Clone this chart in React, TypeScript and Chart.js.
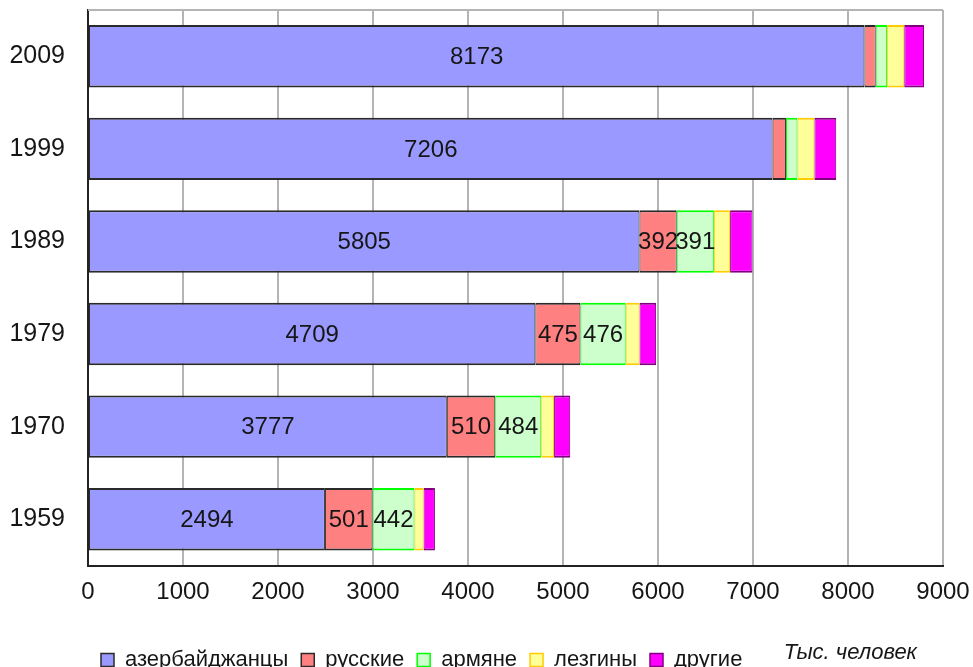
import React, { useEffect, useRef } from "react";
import { Chart, registerables } from "chart.js";

Chart.register(...registerables);

const years = ["2009", "1999", "1989", "1979", "1970", "1959"];
const azerbaijani = [8173, 7206, 5805, 4709, 3777, 2494];
const russian = [119, 141, 392, 475, 510, 501];
const armenian = [120, 121, 391, 476, 484, 442];
const lezgin = [180, 178, 171, 145, 135, 95];
const others = [208, 230, 235, 175, 170, 120];
const seriesNames = ["азербайджанцы", "русские", "армяне", "лезгины", "другие"];
const unitLabel = "Тыс. человек";
const xTicks = [0, 1000, 2000, 3000, 4000, 5000, 6000, 7000, 8000, 9000];
const labelThreshold = 300;

const FONT = "'Liberation Sans', Arial, sans-serif";

const barLabels = {
  id: "barLabels",
  afterDatasetsDraw(chart: any) {
    const ctx = chart.ctx;
    ctx.save();
    ctx.font = `24px ${FONT}`;
    ctx.fillStyle = "#161616";
    ctx.textAlign = "center";
    ctx.textBaseline = "middle";
    chart.data.datasets.forEach((ds: any, di: number) => {
      const meta = chart.getDatasetMeta(di);
      meta.data.forEach((el: any, i: number) => {
        const v = ds.data[i];
        if (v >= labelThreshold) {
          const p = el.getCenterPoint();
          ctx.fillText(String(v), p.x, p.y + 1);
        }
      });
    });
    ctx.restore();
  },
};

const frame = {
  id: "frame",
  beforeDatasetsDraw(chart: any) {
    const { ctx, chartArea } = chart;
    ctx.save();
    ctx.strokeStyle = "#b4b4b4";
    ctx.lineWidth = 2;
    ctx.beginPath();
    ctx.moveTo(chartArea.left, chartArea.top);
    ctx.lineTo(chartArea.right, chartArea.top);
    ctx.stroke();
    ctx.restore();
  },
  afterDraw(chart: any) {
    const { ctx, chartArea } = chart;
    ctx.save();
    ctx.font = `italic 22px ${FONT}`;
    ctx.fillStyle = "#161616";
    ctx.textAlign = "right";
    ctx.textBaseline = "alphabetic";
    ctx.fillText(unitLabel, chartArea.right - 26, chart.legend.top + 23);
    ctx.restore();
  },
};

export default function App() {
  const ref = useRef<HTMLCanvasElement>(null);
  useEffect(() => {
    if (!ref.current) return;
    Chart.defaults.font.family = FONT;
    const bw = { top: 2, bottom: 2, left: 1, right: 1 };
    const chart = new Chart(ref.current, {
      type: "bar",
      data: {
        labels: years,
        datasets: [
          { label: seriesNames[0], data: azerbaijani, backgroundColor: "#9999ff", borderColor: "#2a2a2a", borderWidth: bw },
          { label: seriesNames[1], data: russian, backgroundColor: "#ff8080", borderColor: "#2a2a2a", borderWidth: bw },
          { label: seriesNames[2], data: armenian, backgroundColor: "#ccffcc", borderColor: "#00ff00", borderWidth: bw },
          { label: seriesNames[3], data: lezgin, backgroundColor: "#ffff99", borderColor: "#ffcc00", borderWidth: bw },
          { label: seriesNames[4], data: others, backgroundColor: "#ff00ff", borderColor: "#800080", borderWidth: bw },
        ] as any,
      },
      options: {
        indexAxis: "y",
        responsive: false,
        animation: false,
        devicePixelRatio: 1,
        layout: { padding: { top: 10, left: 0, right: 0, bottom: 0 } },
        datasets: {
          bar: { barPercentage: 0.675, categoryPercentage: 1, borderSkipped: false },
        } as any,
        scales: {
          x: {
            stacked: true,
            min: 0,
            max: 9000,
            afterBuildTicks: (s: any) => {
              s.ticks = xTicks.map((v) => ({ value: v }));
            },
            ticks: {
              padding: 12,
              color: "#161616",
              font: { size: 24 },
              maxRotation: 0,
              autoSkip: false,
              callback: (v: any) => String(v),
            },
            grid: { color: "#b4b4b4", lineWidth: 2, drawTicks: false },
            border: { color: "#222", width: 2 },
            afterFit: (s: any) => {
              s.height = 70.5;
              s.paddingRight = 30;
              s.paddingLeft = 0;
            },
          },
          y: {
            stacked: true,
            grid: { display: false, drawTicks: false },
            border: { color: "#222", width: 2 },
            ticks: { padding: 23, color: "#161616", font: { size: 25 } },
            afterFit: (s: any) => {
              s.width = 88;
              s.paddingTop = 0;
              s.paddingBottom = 0;
            },
          },
        },
        plugins: {
          legend: {
            position: "bottom",
            align: "start",
            fullSize: false,
            labels: { boxWidth: 13, boxHeight: 13, padding: 13, color: "#161616", font: { size: 22 } },
          },
          tooltip: { enabled: false },
        },
      } as any,
      plugins: [barLabels, frame],
    });
    return () => chart.destroy();
  }, []);
  return (
    <div style={{ position: "fixed", left: 0, top: 0, width: 973, height: 667, overflow: "hidden", background: "#fff" }}>
      <canvas ref={ref} width={973} height={681} style={{ display: "block" }} />
    </div>
  );
}
